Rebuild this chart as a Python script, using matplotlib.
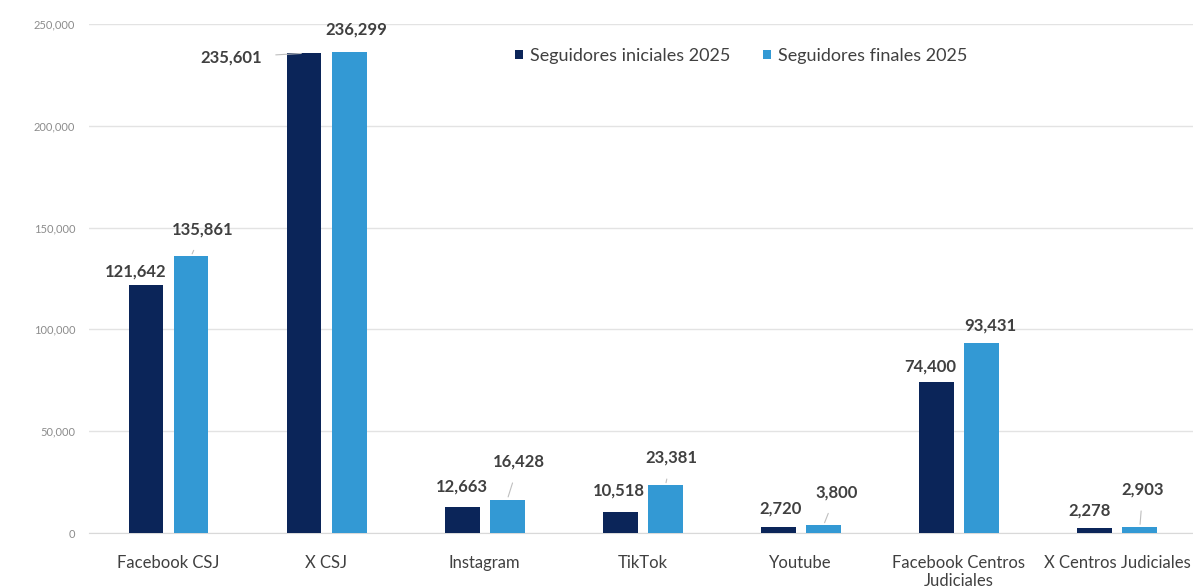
"""
Seguidores en redes sociales 2025 - barras agrupadas
"""
import numpy as np
import matplotlib
matplotlib.use("Agg")
import matplotlib.pyplot as plt
from matplotlib.ticker import FuncFormatter

plt.rcParams['font.family'] = ['Lato', 'DejaVu Sans']

categorias = ["Facebook CSJ", "X CSJ", "Instagram", "TikTok", "Youtube",
              "Facebook Centros\nJudiciales", "X Centros Judiciales"]
iniciales = [121642, 235601, 12663, 10518, 2720, 74400, 2278]
finales = [135861, 236299, 16428, 23381, 3800, 93431, 2903]
series = ["Seguidores iniciales 2025", "Seguidores finales 2025"]

# label offsets (pixels) from bar top
off_ini = [(-10, 14), (-73, -4), (0, 21), (-2, 21), (2, 19), (-6, 15), (-5, 18)]
off_fin = [(12, 27), (7, 22), (12, 38), (6, 28), (13, 33), (9, 17), (3, 38)]
linea_ini = [False, True, False, False, False, False, False]
linea_fin = [True, False, True, True, True, False, True]

c_dark = '#0b2559'
c_light = '#3399d4'
c_text = '#404040'
c_tick = '#8c8c8c'

fig = plt.figure(figsize=(11.93, 5.86), dpi=100)
ax = fig.add_axes([89 / 1193, 53 / 586, 1107 / 1193, 509 / 586])

x = np.arange(len(categorias))
w = 0.22
b1 = ax.bar(x - 0.14, iniciales, w, color=c_dark, label=series[0], zorder=3)
b2 = ax.bar(x + 0.145, finales, w, color=c_light, label=series[1], zorder=3)

ax.set_xlim(-0.5, len(categorias) - 0.5)
ax.set_ylim(0, 250000)
ax.set_yticks(np.arange(0, 250001, 50000))
ax.yaxis.set_major_formatter(FuncFormatter(lambda v, p: f"{int(v):,}"))
ax.grid(axis='y', color='#e3e3e3', linewidth=1, zorder=0)
for s in ['top', 'right', 'left']:
    ax.spines[s].set_visible(False)
ax.spines['bottom'].set_color('#d9d9d9')
ax.tick_params(axis='y', length=0, labelsize=8, labelcolor=c_tick, pad=10)
ax.tick_params(axis='x', length=0, labelsize=12, labelcolor=c_text, pad=16)
ax.set_xticks(x)
ax.set_xticklabels(categorias, linespacing=1.1)

for bars, vals, offs, lineas in [(b1, iniciales, off_ini, linea_ini),
                                 (b2, finales, off_fin, linea_fin)]:
    for bar, v, (dx, dy), ln in zip(bars, vals, offs, lineas):
        cx = bar.get_x() + bar.get_width() / 2
        arrow = None
        if ln:
            arrow = dict(arrowstyle='-', color='#bfbfbf', lw=0.8,
                         shrinkA=8, shrinkB=2)
        ax.annotate(f"{v:,}", xy=(cx, v), xytext=(dx, dy),
                    textcoords='offset pixels', ha='center', va='center',
                    fontsize=12, fontweight='bold', color=c_text,
                    arrowprops=arrow, annotation_clip=False)

ax.legend(loc='upper left', bbox_to_anchor=(0.37, 0.985), ncol=2, frameon=False,
          fontsize=13, handlelength=0.45, handleheight=0.45, handletextpad=0.4,
          columnspacing=1.8, labelcolor=c_text)

fig.savefig('out.png', dpi=100)
